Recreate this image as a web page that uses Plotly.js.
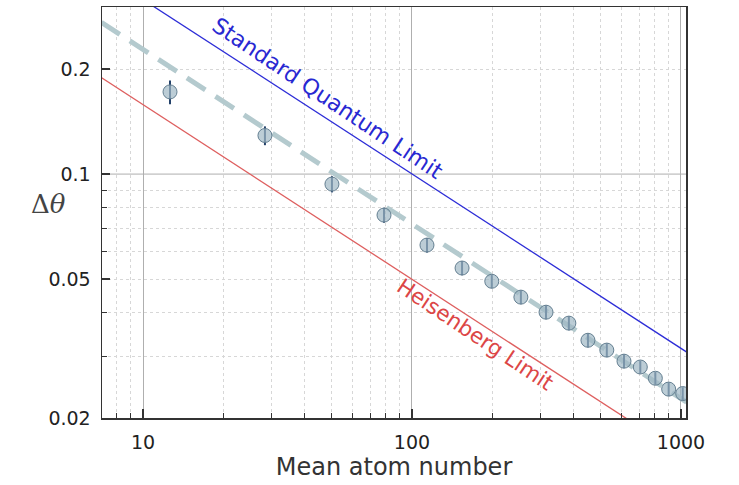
<!DOCTYPE html>
<html>
<head>
<meta charset="utf-8">
<script src="https://cdn.plot.ly/plotly-3.0.1.min.js"></script>
<style>
  html, body { margin: 0; padding: 0; background: #fff; }
  #graph { width: 739px; height: 485px; }
</style>
</head>
<body>
<div id="graph"></div>
<script>
// measured points (mean atom number vs phase uncertainty)
var atomNumber = [12.6, 28.4, 50.4, 78.7, 113.7, 153.5, 198, 254, 315, 383, 451, 530, 614, 706, 803, 900, 1015];
var deltaTheta = [0.172, 0.129, 0.0936, 0.0763, 0.0626, 0.0538, 0.0493, 0.0444, 0.0402, 0.0374, 0.0334, 0.0313, 0.0291, 0.0280, 0.0260, 0.0242, 0.0235];
var deltaErr   = [0.0135, 0.008, 0.005, 0.0038, 0.003, 0.0025, 0.0022, 0.002, 0.0018, 0.0017, 0.0015, 0.0014, 0.0013, 0.0012, 0.0011, 0.0011, 0.001];

// reference lines, end points
var lineX    = [7, 1050];
var sqlY     = [0.378, 0.0309];
var heisY    = [0.189, 0.0154];
var fitY     = [0.272, 0.0222];

var xTicks = [10, 100, 1000];
var yTicks = [0.02, 0.05, 0.1, 0.2];
var yTickText = ['0.02', '0.05', '0.1', '0.2'];
var xMinor = [8, 9, 20, 30, 40, 50, 60, 70, 80, 90, 200, 300, 400, 500, 600, 700, 800, 900];
var yMinor = [0.03, 0.04, 0.05, 0.06, 0.07, 0.08, 0.09, 0.2, 0.3];

var FONT = 'DejaVu Sans, Liberation Sans, Arial, sans-serif';

var traces = [
    {
        x: lineX, y: sqlY, mode: 'lines', type: 'scatter',
        line: { color: 'rgb(45,45,215)', width: 1.3 },
        hoverinfo: 'skip'
    },
    {
        x: lineX, y: heisY, mode: 'lines', type: 'scatter',
        line: { color: 'rgb(222,95,95)', width: 1.3 },
        hoverinfo: 'skip'
    },
    {
        x: lineX, y: fitY, mode: 'lines', type: 'scatter',
        line: { color: 'rgb(180,202,206)', width: 5, dash: '22px,12px' },
        hoverinfo: 'skip'
    },
    {
        x: atomNumber, y: deltaTheta, mode: 'markers', type: 'scatter',
        marker: {
            size: 14,
            color: 'rgba(160,184,197,0.7)',
            line: { color: 'rgb(100,127,145)', width: 1 }
        },
        error_y: {
            type: 'data', array: deltaErr, visible: true,
            color: 'rgb(35,65,105)', thickness: 2, width: 0
        }
    }
];

var layout = {
    width: 739,
    height: 485,
    showlegend: false,
    paper_bgcolor: '#fff',
    plot_bgcolor: '#fff',
    margin: { l: 102, r: 53, t: 7, b: 67 },
    font: { family: FONT, color: '#222' },
    xaxis: {
        type: 'log',
        range: [Math.log10(7.04), Math.log10(1044)],
        tickmode: 'array',
        tickvals: xTicks,
        ticktext: ['10', '100', '1000'],
        ticks: 'inside',
        ticklen: 9,
        tickwidth: 1.5,
        tickcolor: '#333',
        ticklabelstandoff: 7,
        tickfont: { size: 19, color: '#222' },
        showgrid: true,
        gridcolor: 'rgb(175,175,175)',
        gridwidth: 1,
        showline: true,
        linecolor: '#333',
        linewidth: 1.5,
        mirror: true,
        zeroline: false,
        minor: {
            tickmode: 'array',
            tickvals: xMinor,
            ticks: 'inside',
            ticklen: 5,
            tickcolor: '#333',
            tickwidth: 1,
            showgrid: true,
            gridcolor: 'rgb(215,215,215)',
            griddash: '3px,3px',
            gridwidth: 1
        },
        title: {
            text: 'Mean atom number',
            font: { size: 24, color: '#333', family: FONT },
            standoff: 5
        }
    },
    yaxis: {
        type: 'log',
        range: [Math.log10(0.02), -0.5212],
        tickmode: 'array',
        tickvals: yTicks,
        ticktext: yTickText,
        ticks: 'inside',
        ticklen: 8,
        tickwidth: 1.5,
        tickcolor: '#333',
        ticklabelstandoff: 6,
        tickfont: { size: 19, color: '#222' },
        showgrid: false,
        showline: true,
        linecolor: '#333',
        linewidth: 1.5,
        mirror: true,
        zeroline: false,
        minor: {
            tickmode: 'array',
            tickvals: yMinor,
            ticks: 'inside',
            ticklen: 5,
            tickcolor: '#333',
            tickwidth: 1,
            showgrid: true,
            gridcolor: 'rgb(215,215,215)',
            griddash: '3px,3px',
            gridwidth: 1
        }
    },
    shapes: [
        // solid major gridline at 0.1
        {
            type: 'line', xref: 'paper', yref: 'y',
            x0: 0, x1: 1, y0: 0.1, y1: 0.1,
            line: { color: 'rgb(175,175,175)', width: 1 },
            layer: 'below'
        }
    ],
    annotations: [
        {
            xref: 'x', yref: 'y',
            x: 1.688, y: -0.782,
            text: 'Standard Quantum Limit',
            showarrow: false,
            textangle: 33.7,
            font: { size: 22, color: 'rgb(40,40,210)', family: FONT }
        },
        {
            xref: 'x', yref: 'y',
            x: 2.236, y: -1.46,
            text: 'Heisenberg Limit',
            showarrow: false,
            textangle: 33.7,
            font: { size: 21.5, color: 'rgb(220,70,70)', family: FONT }
        },
        {
            xref: 'paper', yref: 'paper',
            x: -0.125, y: 0.52,
            text: 'Δ<i>θ</i>',
            showarrow: false,
            font: { size: 26, color: '#444', family: 'DejaVu Serif, Liberation Serif, serif' }
        }
    ]
};

Plotly.newPlot('graph', traces, layout, { displayModeBar: false, staticPlot: true });
</script>
</body>
</html>
